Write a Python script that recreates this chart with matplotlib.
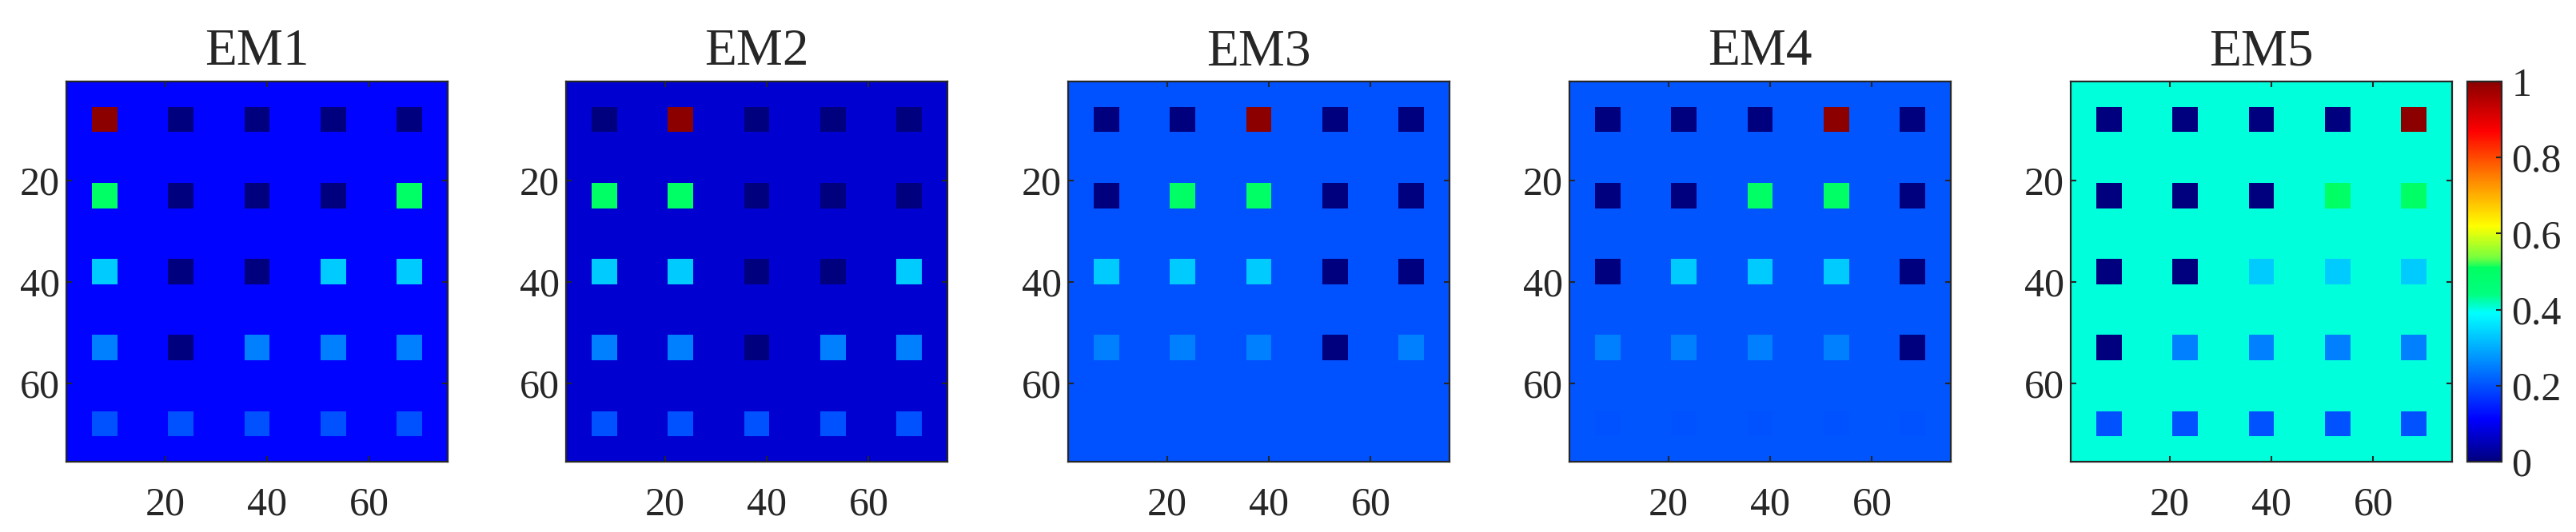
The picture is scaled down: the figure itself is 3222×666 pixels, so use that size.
import numpy as np
import matplotlib
matplotlib.use("Agg")
import matplotlib.pyplot as plt
from matplotlib.colors import LinearSegmentedColormap

# ---------------- data ----------------
titles = ["EM1", "EM2", "EM3", "EM4", "EM5"]
background = [0.1149, 0.0741, 0.2003, 0.2055, 0.4051]

em1_squares = [[1.0, 0.0, 0.0, 0.0, 0.0],
               [0.5, 0.0, 0.0, 0.0, 0.5],
               [0.333, 0.0, 0.0, 0.333, 0.333],
               [0.25, 0.0, 0.25, 0.25, 0.25],
               [0.2, 0.2, 0.2, 0.2, 0.2]]
em2_squares = [[0.0, 1.0, 0.0, 0.0, 0.0],
               [0.5, 0.5, 0.0, 0.0, 0.0],
               [0.333, 0.333, 0.0, 0.0, 0.333],
               [0.25, 0.25, 0.0, 0.25, 0.25],
               [0.2, 0.2, 0.2, 0.2, 0.2]]
em3_squares = [[0.0, 0.0, 1.0, 0.0, 0.0],
               [0.0, 0.5, 0.5, 0.0, 0.0],
               [0.333, 0.333, 0.333, 0.0, 0.0],
               [0.25, 0.25, 0.25, 0.0, 0.25],
               [0.2, 0.2, 0.2, 0.2, 0.2]]
em4_squares = [[0.0, 0.0, 0.0, 1.0, 0.0],
               [0.0, 0.0, 0.5, 0.5, 0.0],
               [0.0, 0.333, 0.333, 0.333, 0.0],
               [0.25, 0.25, 0.25, 0.25, 0.0],
               [0.2, 0.2, 0.2, 0.2, 0.2]]
em5_squares = [[0.0, 0.0, 0.0, 0.0, 1.0],
               [0.0, 0.0, 0.0, 0.5, 0.5],
               [0.0, 0.0, 0.333, 0.333, 0.333],
               [0.0, 0.25, 0.25, 0.25, 0.25],
               [0.2, 0.2, 0.2, 0.2, 0.2]]
all_squares = [em1_squares, em2_squares, em3_squares, em4_squares, em5_squares]

image_size = 75
square_size = 5
square_step = 15
square_offset = 5

x_ticks = [20, 40, 60]
y_ticks = [20, 40, 60]
cbar_ticks = [0, 0.2, 0.4, 0.6, 0.8, 1]
cbar_labels = ["0", "0.2", "0.4", "0.6", "0.8", "1"]

# ---------------- colormap (jet-like as in reference) ----------------
cmap = LinearSegmentedColormap.from_list("jetlike", [
    (0.00, (0.0, 0.0, 0.5)),
    (0.11, (0.0, 0.0, 1.0)),
    (0.39, (0.0, 1.0, 1.0)),
    (0.44, (0.0, 1.0, 0.5)),
    (0.51, (0.0, 1.0, 0.38)),
    (0.535, (0.45, 1.0, 0.25)),
    (0.62, (1.0, 1.0, 0.0)),
    (0.75, (1.0, 0.5, 0.0)),
    (0.87, (1.0, 0.0, 0.0)),
    (1.00, (0.55, 0.0, 0.0)),
])

def build_map(bg, squares):
    img = np.full((image_size, image_size), bg, dtype=float)
    for r in range(5):
        for c in range(5):
            r0 = square_offset + r * square_step
            c0 = square_offset + c * square_step
            img[r0:r0 + square_size, c0:c0 + square_size] = squares[r][c]
    return img

# ---------------- figure ----------------
W, H = 3222, 666
fig = plt.figure(figsize=(W / 100, H / 100), dpi=100)
plt.rcParams['font.family'] = ['Liberation Serif', 'DejaVu Serif']
txt_color = '#262626'

ax_lefts = [83, 708, 1336, 1963, 2590]
ax_w = 477
ax_top = 102
ax_bot = 578

im = None
for i in range(5):
    ax = fig.add_axes([ax_lefts[i] / W, 1 - ax_bot / H, ax_w / W, (ax_bot - ax_top) / H])
    img = build_map(background[i], all_squares[i])
    im = ax.imshow(img, cmap=cmap, vmin=0, vmax=1, interpolation='nearest',
                   extent=(0.5, image_size + 0.5, image_size + 0.5, 0.5), aspect='auto')
    ax.set_xticks(x_ticks)
    ax.set_yticks(y_ticks)
    ax.tick_params(direction='in', top=True, right=True, length=5, width=1.5,
                   colors=txt_color, labelsize=36)
    ax.tick_params(axis='x', pad=22)
    ax.tick_params(axis='y', pad=6)
    for sp in ax.spines.values():
        sp.set_linewidth(1.6)
        sp.set_color(txt_color)
    ax.set_title(titles[i], fontsize=47, color=txt_color, pad=15)

cax = fig.add_axes([3086 / W, 1 - ax_bot / H, 43 / W, (ax_bot - ax_top) / H])
cb = fig.colorbar(im, cax=cax, ticks=cbar_ticks)
cb.ax.set_yticklabels(cbar_labels)
cb.ax.tick_params(direction='in', length=5, width=1.5, colors=txt_color, labelsize=36, pad=9)
cb.outline.set_linewidth(1.6)
cb.outline.set_edgecolor(txt_color)

fig.savefig("out.png", dpi=100)
